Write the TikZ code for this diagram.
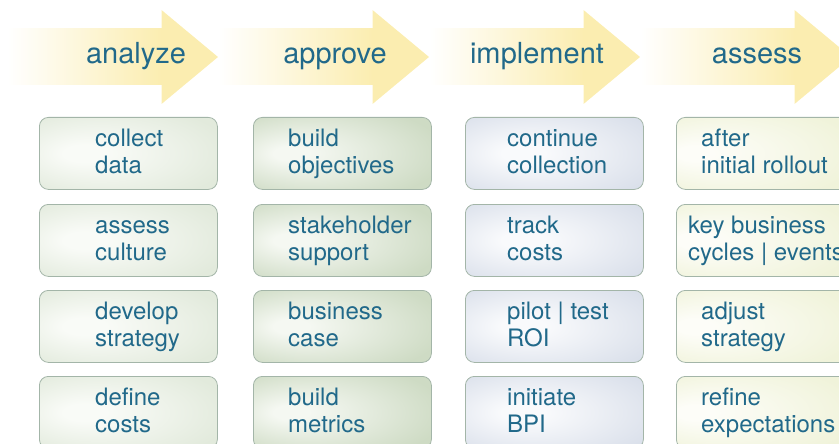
\documentclass[tikz,border=0pt]{standalone}
\usepackage{fontspec}
\setmainfont{TeX Gyre Heros}

% palette
\definecolor{inkteal}{HTML}{21698A}
\definecolor{arrowyel}{HTML}{FBEDB0}
\definecolor{cellline}{HTML}{A3B5A8}
\definecolor{sageA}{HTML}{E2EADC}
\definecolor{sageAin}{HTML}{F9FBF7}
\definecolor{sageB}{HTML}{CEDBC4}
\definecolor{sageBin}{HTML}{F5F8F2}
\definecolor{slateC}{HTML}{D9DFEA}
\definecolor{slateCin}{HTML}{F9FAFC}
\definecolor{creamD}{HTML}{F0F3DA}
\definecolor{creamDin}{HTML}{FDFDF8}

% soft off-centre glow for each column of cells
\pgfdeclareradialshading{glowA}{\pgfpoint{-14bp}{0bp}}{color(0bp)=(sageAin); color(6bp)=(sageAin); color(34bp)=(sageA); color(50bp)=(sageA)}
\pgfdeclareradialshading{glowB}{\pgfpoint{-16bp}{0bp}}{color(0bp)=(sageBin); color(5bp)=(sageBin); color(34bp)=(sageB); color(50bp)=(sageB)}
\pgfdeclareradialshading{glowC}{\pgfpoint{-10bp}{0bp}}{color(0bp)=(slateCin); color(6bp)=(slateCin); color(36bp)=(slateC); color(50bp)=(slateC)}
\pgfdeclareradialshading{glowD}{\pgfpoint{-22bp}{0bp}}{color(0bp)=(creamDin); color(5bp)=(creamDin); color(34bp)=(creamD); color(50bp)=(creamD)}

\tikzset{
  x=1pt, y=-1pt,
  stagetitle/.style={font=\fontsize{29}{32}\selectfont, text=inkteal, inner sep=0pt, anchor=base},
  cell/.style={draw=cellline, line width=0.8pt, rounded corners=9pt, shade, shading=#1,
    minimum width=178pt, minimum height=72pt, inner sep=0pt, anchor=north west},
  % anchored on the baseline of the second line
  celltext/.style={font=\fontsize{24}{27}\selectfont, text=inkteal, align=left,
    inner sep=0pt, anchor=base west},
}

\begin{document}
\begin{tikzpicture}
\useasboundingbox (0,0) rectangle (839,444);
\clip (0,0) rectangle (839,444);

% stage arrows: fading shaft plus solid head
\foreach \k in {0,1,2,3}{
  \pgfmathsetmacro{\xs}{8+211*\k}
  \pgfmathsetmacro{\xb}{161.5+211*\k}
  \pgfmathsetmacro{\xt}{218+211*\k}
  \shade[left color=white, right color=arrowyel] (\xs,29) rectangle (\xb+0.5,85);
  \fill[arrowyel] (\xb,10) -- (\xt,57) -- (\xb,104) -- cycle;
}

\node[stagetitle] (h1) at (136,64) {analyze};
\node[stagetitle] (h2) at (335,64) {approve};
\node[stagetitle] (h3) at (537,64) {implement};
\node[stagetitle] (h4) at (757,64) {assess};

% column 1: analyze
\node[cell=glowA] (c11) at (39,117) {};
\node[cell=glowA] (c12) at (39,204) {};
\node[cell=glowA] (c13) at (39,290) {};
\node[cell=glowA] (c14) at (39,376) {};
\node[celltext] (t11) at (95,173) {collect\\data};
\node[celltext] (t12) at (95,260) {assess\\culture};
\node[celltext] (t13) at (95,346) {develop\\strategy};
\node[celltext] (t14) at (95,432) {define\\costs};

% column 2: approve
\node[cell=glowB] (c21) at (253,117) {};
\node[cell=glowB] (c22) at (253,204) {};
\node[cell=glowB] (c23) at (253,290) {};
\node[cell=glowB] (c24) at (253,376) {};
\node[celltext] (t21) at (288,173) {build\\objectives};
\node[celltext] (t22) at (288,260) {stakeholder\\support};
\node[celltext] (t23) at (288,346) {business\\case};
\node[celltext] (t24) at (288,432) {build\\metrics};

% column 3: implement
\node[cell=glowC] (c31) at (465,117) {};
\node[cell=glowC] (c32) at (465,204) {};
\node[cell=glowC] (c33) at (465,290) {};
\node[cell=glowC] (c34) at (465,376) {};
\node[celltext] (t31) at (507,173) {continue\\collection};
\node[celltext] (t32) at (507,260) {track\\costs};
\node[celltext] (t33) at (507,346) {pilot | test\\ROI};
\node[celltext] (t34) at (507,432) {initiate\\BPI};

% column 4: assess
\node[cell=glowD] (c41) at (676,117) {};
\node[cell=glowD] (c42) at (676,204) {};
\node[cell=glowD] (c43) at (676,290) {};
\node[cell=glowD] (c44) at (676,376) {};
\node[celltext] (t41) at (701,173) {after\\initial rollout};
\node[celltext] (t42) at (688,260) {key business\\cycles | events};
\node[celltext] (t43) at (701,346) {adjust\\strategy};
\node[celltext] (t44) at (701,432) {refine\\expectations};
\end{tikzpicture}
\end{document}
